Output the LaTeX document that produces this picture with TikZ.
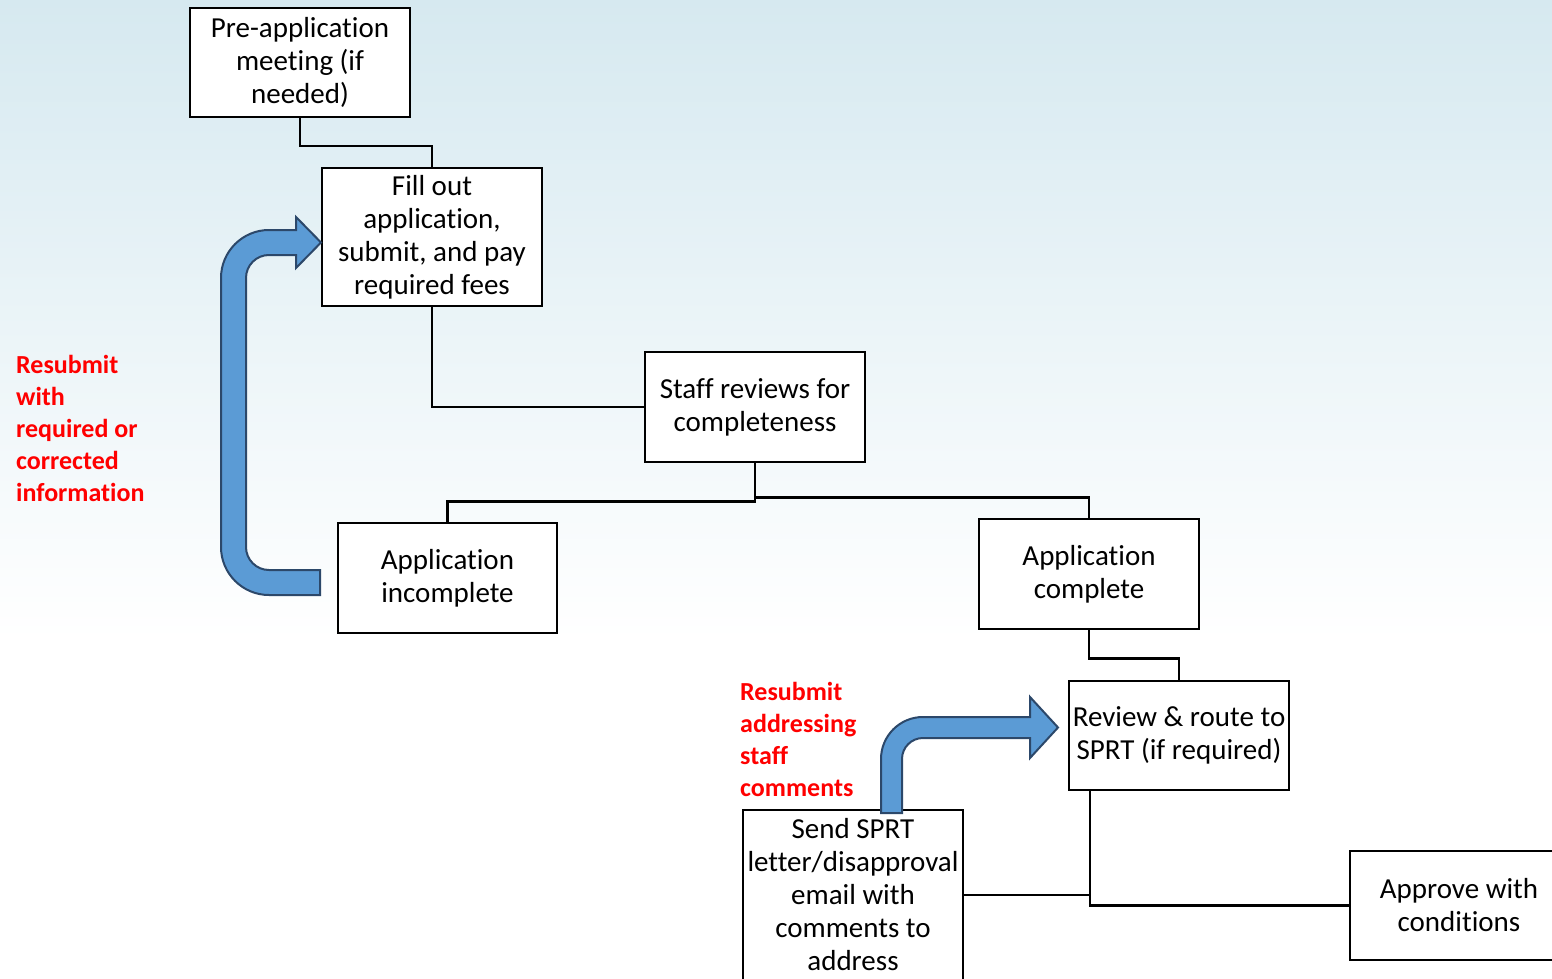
\documentclass[tikz,border=0pt]{standalone}
\usepackage{fontspec}
\setmainfont{Carlito}[Ligatures=NoCommon]
\definecolor{skytop}{RGB}{214,233,240}
\definecolor{arrowfill}{RGB}{91,155,213}
\definecolor{arrowline}{RGB}{44,72,106}
\definecolor{notered}{RGB}{255,0,0}
\tikzset{
  stepbox/.style={draw=black, line width=2.5pt, fill=white, align=center,
    inner sep=2pt, font=\fontsize{29}{33}\selectfont},
  link/.style={draw=black, line width=2.5pt},
  bentarrow/.style={fill=arrowfill, draw=arrowline, line width=2pt, line join=miter},
  note/.style={text=notered, align=left, anchor=north west, inner sep=0pt,
    font=\fontsize{26}{32}\selectfont\bfseries}
}
\begin{document}
\begin{tikzpicture}[x=1pt, y=-1pt]
  \useasboundingbox (0,0) rectangle (1552,979);
  \clip (0,0) rectangle (1552,979);
  % background wash
  \fill[white] (0,0) rectangle (1552,979);
  \shade[top color=skytop, bottom color=white] (0,0) rectangle (1552,640);

  % process boxes
  \node[stepbox, minimum width=220pt, minimum height=109pt] (pre) at (300,62.5)
    {Pre-application\\meeting (if\\needed)};
  \node[stepbox, minimum width=220pt, minimum height=138pt] (fill) at (432,237)
    {Fill out\\application,\\submit, and pay\\required fees};
  \node[stepbox, minimum width=220pt, minimum height=110pt] (staff) at (755,407)
    {Staff reviews for\\completeness};
  \node[stepbox, minimum width=219pt, minimum height=110pt] (inc) at (447.5,578)
    {Application\\incomplete};
  \node[stepbox, minimum width=220pt, minimum height=110pt] (comp) at (1089,574)
    {Application\\complete};
  \node[stepbox, minimum width=220pt, minimum height=109pt] (rev) at (1179,735.5)
    {Review \& route to\\SPRT (if required)};
  \node[stepbox, minimum width=220pt, minimum height=170pt] (send) at (853,895)
    {Send SPRT\\letter/disapproval\\email with\\comments to\\address};
  \node[stepbox, minimum width=218pt, minimum height=109pt] (appr) at (1459,905.5)
    {Approve with\\conditions};

  % elbow connectors
  \draw[link] (pre.south) -- ++(0,27.5) -| (fill.north);
  \draw[link] (fill.south) |- (staff.west);
  \draw[link] (staff.south) -- ++(0,38) -| (inc.north);
  \draw[link] (staff.south) -- ++(0,34) -| (comp.north);
  \draw[link] (comp.south) -- ++(0,28) -| (rev.north);
  \coordinate (revdrop) at ([xshift=-89pt]rev.south);
  \draw[link] (revdrop) |- (appr.west);
  \draw[link] (send.east) -- (send.east -| revdrop);

  % resubmission loop back to the application step
  \path[bentarrow] (320,595) -- (269,595)
    .. controls (242.5,595) and (221,573.5) .. (221,547) -- (221,278)
    .. controls (221,251.5) and (242.5,230) .. (269,230) -- (296,230)
    -- (296,217) -- (321,242.5) -- (296,268) -- (296,255) -- (269,255)
    .. controls (256.3,255) and (246,265.3) .. (246,278) -- (246,547)
    .. controls (246,559.7) and (256.3,570) .. (269,570) -- (320,570) -- cycle;

  % resubmission after SPRT comments
  \path[bentarrow] (881,813) -- (881,759)
    .. controls (881,735.8) and (899.8,717) .. (923,717) -- (1030,717)
    -- (1030,697) -- (1058,727.5) -- (1030,758) -- (1030,738) -- (923,738)
    .. controls (911.4,738) and (902,747.4) .. (902,759) -- (902,813) -- cycle;

  % notes
  \node[note] (noteA) at (16,355)
    {Resubmit\\with\\required or\\corrected\\information};
  \node[note] (noteB) at (740,682)
    {Resubmit\\addressing\\staff\\comments};
\end{tikzpicture}
\end{document}
